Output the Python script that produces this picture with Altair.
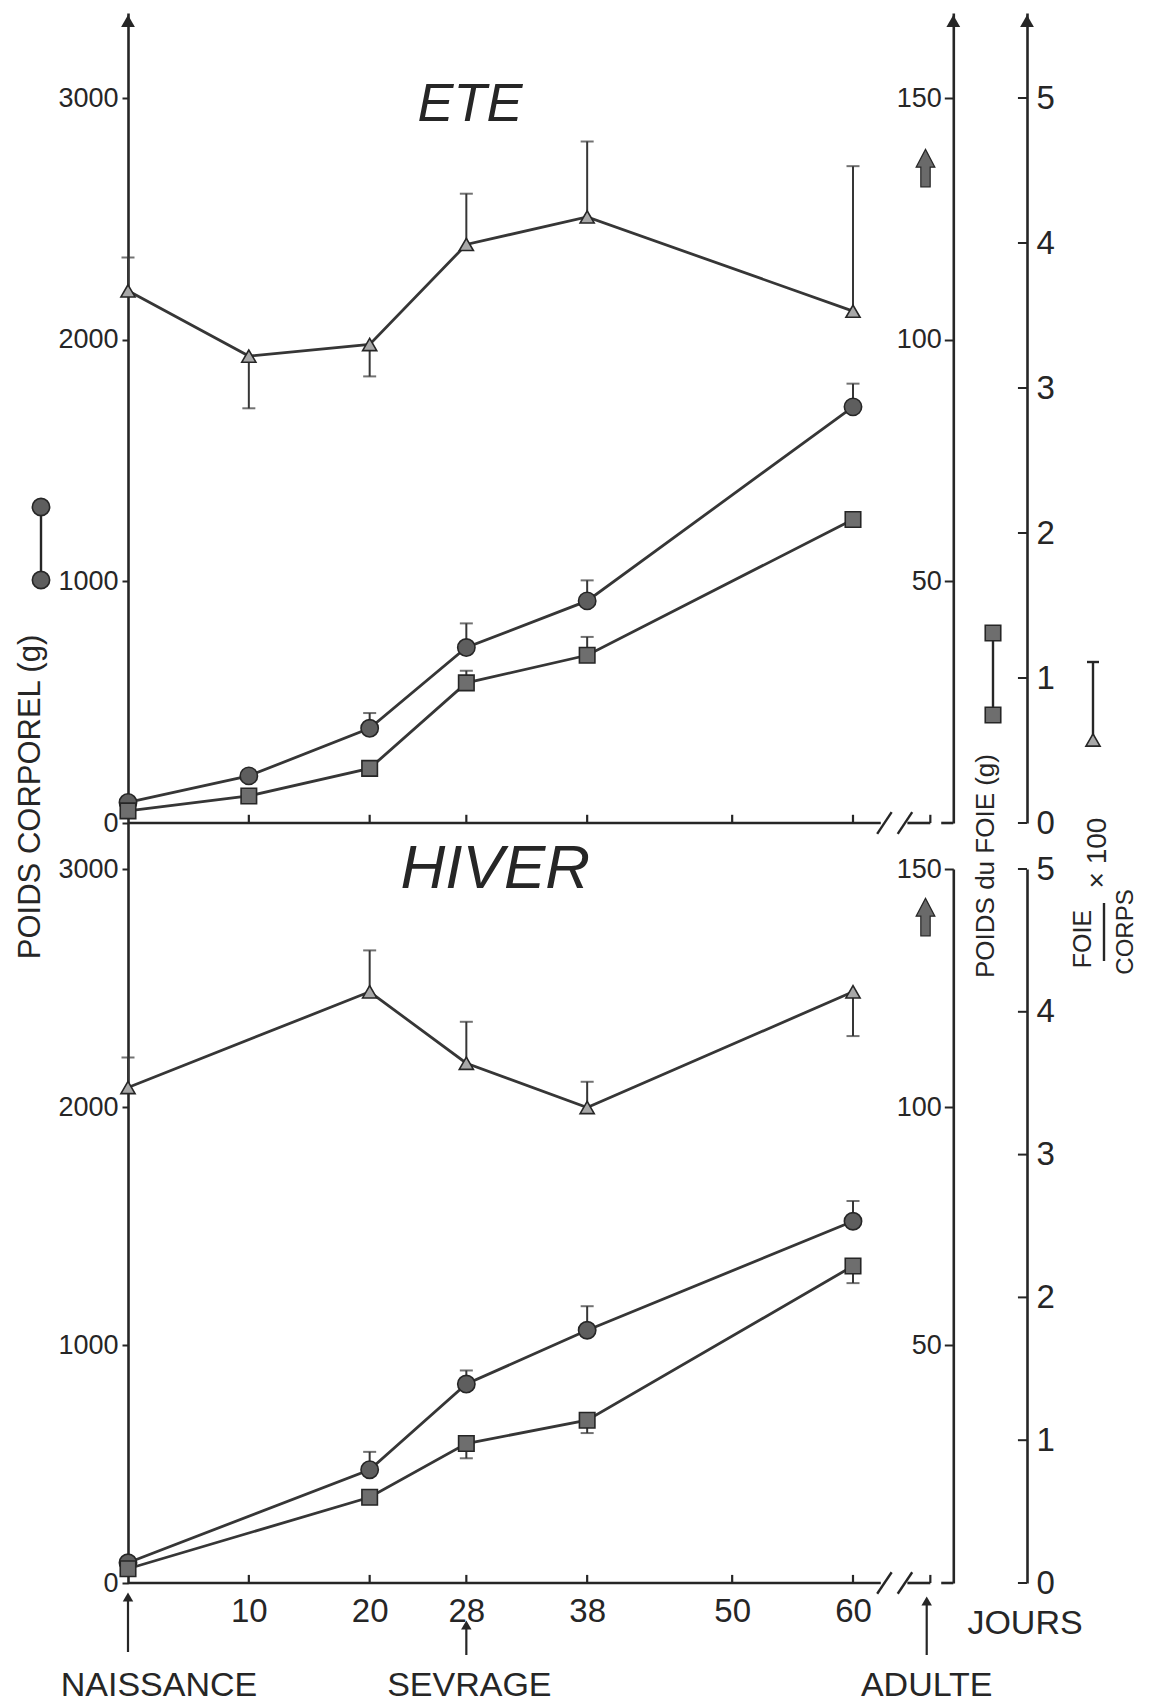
import altair as alt
import pandas as pd

# ---------------- data ----------------
days_ete = [0, 10, 20, 28, 38, 60]
body_ete = [85, 195, 392, 726, 919, 1722]
body_ete_err = [None, None, 455, 826, 1004, 1818]
liver_ete = [2.5, 5.6, 11.3, 29.0, 34.7, 62.8]
liver_ete_err = [None, None, None, 31.5, 38.5, None]
ratio_ete = [3.67, 3.22, 3.30, 3.99, 4.18, 3.53]
ratio_ete_err = [3.90, 2.86, 3.08, 4.34, 4.70, 4.53]

days_hiv = [0, 20, 28, 38, 60]
body_hiv = [85, 476, 836, 1062, 1520]
body_hiv_err = [None, 551, 893, 1163, 1605]
liver_hiv = [3.0, 18.0, 29.3, 34.2, 66.6]
liver_hiv_err = [None, None, 26.2, 31.5, 63.0]
ratio_hiv = [3.47, 4.14, 3.64, 3.33, 4.14]
ratio_hiv_err = [3.68, 4.43, 3.93, 3.51, 3.83]

x_tick_values = [10, 20, 28, 38, 50, 60]
body_tick_values = [0, 1000, 2000, 3000]
liver_tick_values = [50, 100, 150]
ratio_tick_values = [0, 1, 2, 3, 4, 5]
landmark_days = [0, 28, 66.1]
landmark_labels = ["NAISSANCE", "SEVRAGE", "ADULTE"]
season_labels = ["ETE", "HIVER"]

# ---------------- layout / style ----------------
FONT = "Liberation Sans"
INK = "#262626"
LINE = "#363636"
W = 899
XMAX = 74.4
MID_X = 68.3
H1 = 810
H2 = 760
B1 = 3000 * H1 / 725.0
B2 = 3000 * H2 / 714.0
TOP2 = H2 - 714
ONE = pd.DataFrame({"k": [0]})
BLOCK_ARROW = "M-0.25,1L0.25,1L0.25,-0.05L0.5,-0.05L0,-1L-0.5,-0.05L-0.25,-0.05Z"

xscale = alt.Scale(domain=[0, XMAX], nice=False, zero=False)


def axis_kw(**kw):
    base = dict(grid=False, title=None, format="d", labelFont=FONT, labelFontSize=27,
                labelColor=INK, domainColor=INK, domainWidth=2.6, tickColor=INK, tickWidth=2)
    base.update(kw)
    return alt.Axis(**base)


def ptext(text, x, y, size, angle=0, **kw):
    return alt.Chart(ONE).mark_text(text=text, font=FONT, fontSize=size, color=INK, angle=angle,
                                    align="center", baseline="middle", **kw).encode(
        x=alt.value(x), y=alt.value(y))


def pvrule(x, y1, y2, w=2.4):
    return alt.Chart(ONE).mark_rule(color=INK, strokeWidth=w).encode(
        x=alt.value(x), y=alt.value(y1), y2=alt.value(y2))


def phrule(x1, x2, y, w=2.4):
    return alt.Chart(ONE).mark_rule(color=INK, strokeWidth=w).encode(
        x=alt.value(x1), x2=alt.value(x2), y=alt.value(y))


def ppoint(shape, x, y, size, fill="#6a6a6a"):
    return alt.Chart(ONE).mark_point(shape=shape, filled=True, size=size, fill=fill, stroke=INK,
                                     strokeWidth=1.6, opacity=1).encode(x=alt.value(x), y=alt.value(y))


def build_panel(days, body, berr, liver, lerr, ratio, rerr, H, bscale, lscale, rscale, xaxis,
                season, season_pos, season_size, block_y, top_arrows):
    def X(field):
        return alt.X(field, type="quantitative", scale=xscale, axis=xaxis, title=None)

    def Y(field, scale, axis=None):
        return alt.Y(field, type="quantitative", scale=scale, axis=axis)

    left_ax = axis_kw(orient="left", values=body_tick_values, tickSize=6, labelPadding=4)
    mid_ax = axis_kw(orient="left", offset=-W * MID_X / XMAX, values=liver_tick_values,
                     tickSize=9, labelPadding=3)
    rat_ax = axis_kw(orient="right", values=ratio_tick_values, ticks=False, labelPadding=9,
                     labelFontSize=33)

    def series(vals, errs, scale, axis, shape, size, fill):
        df = pd.DataFrame({"d": days, "v": vals})
        de = pd.DataFrame({"d": days, "v": vals, "e": errs}).dropna()
        return [
            alt.Chart(df).mark_line(color=LINE, strokeWidth=2.8).encode(x=X("d"), y=Y("v", scale, axis)),
            alt.Chart(de).mark_rule(color=LINE, strokeWidth=2).encode(x=X("d"), y=Y("v", scale), y2="e"),
            alt.Chart(de).mark_tick(orient="horizontal", size=13, thickness=2, color=LINE).encode(
                x=X("d"), y=Y("e", scale)),
            alt.Chart(df).mark_point(shape=shape, filled=True, size=size, fill=fill, stroke=INK,
                                     strokeWidth=1.6, opacity=1).encode(x=X("d"), y=Y("v", scale)),
        ]

    layers = []
    # baseline with break
    seg = pd.DataFrame({"a": [0, 64.5, 67.3], "b": [62.3, 66.4, MID_X], "y": [0, 0, 0]})
    layers.append(alt.Chart(seg).mark_rule(color=INK, strokeWidth=2.6).encode(
        x=X("a"), x2="b", y=Y("y", bscale)))
    ticks = pd.DataFrame({"d": x_tick_values + [66.4], "y0": 0, "y1": 34})
    layers.append(alt.Chart(ticks).mark_rule(color=INK, strokeWidth=2.2).encode(
        x=X("d"), y=Y("y0", bscale), y2="y1"))
    slash = pd.DataFrame({"a": [62.0, 63.7], "b": [63.2, 64.9], "y0": -45, "y1": 45})
    layers.append(alt.Chart(slash).mark_rule(color=INK, strokeWidth=2.4).encode(
        x=X("a"), x2="b", y=Y("y0", bscale), y2="y1"))
    # inward ticks on the ratio axis
    rt = pd.DataFrame({"a": XMAX - 0.75, "b": XMAX, "y": ratio_tick_values})
    layers.append(alt.Chart(rt).mark_rule(color=INK, strokeWidth=2).encode(
        x=X("a"), x2="b", y=Y("y", rscale)))

    layers += series(body, berr, bscale, left_ax, "circle", 300, "#5e5e5e")
    layers += series(liver, lerr, lscale, mid_ax, "square", 240, "#6e6e6e")
    layers += series(ratio, rerr, rscale, rat_ax, "triangle-up", 200, "#a8a8a8")

    if top_arrows:
        ta = pd.DataFrame({"d": [0, MID_X, XMAX], "y": B1 * (1 - 8.0 / H1)})
        layers.append(alt.Chart(ta).mark_point(shape="triangle-up", filled=True, size=190,
                                               color=INK, opacity=1).encode(x=X("d"), y=Y("y", bscale)))

    st = pd.DataFrame({"d": [season_pos[0]], "v": [season_pos[1]]})
    layers.append(alt.Chart(st).mark_text(text=season, font=FONT, fontStyle="italic",
                                          fontSize=season_size, color=INK).encode(
        x=X("d"), y=Y("v", bscale)))
    ba = pd.DataFrame({"d": [66.0], "v": [block_y]})
    layers.append(alt.Chart(ba).mark_point(shape=BLOCK_ARROW, filled=True, size=1400, fill="#6a6a6a",
                                           stroke=INK, strokeWidth=1.2, opacity=1).encode(
        x=X("d"), y=Y("v", bscale)))
    return layers


bs1 = alt.Scale(domain=[0, B1], nice=False, zero=False)
ls1 = alt.Scale(domain=[0, B1 / 20.0], nice=False, zero=False)
rs1 = alt.Scale(domain=[0, B1 / 600.0], nice=False, zero=False)
bs2 = alt.Scale(domain=[0, B2], nice=False, zero=False)
ls2 = alt.Scale(domain=[0, 150], range=[H2, TOP2], nice=False, zero=False)
rs2 = alt.Scale(domain=[0, 5], range=[H2, TOP2], nice=False, zero=False)

ete_layers = build_panel(days_ete, body_ete, body_ete_err, liver_ete, liver_ete_err, ratio_ete,
                         ratio_ete_err, H1, bs1, ls1, rs1, None, season_labels[0], (28.3, 2971), 54,
                         2710, True)
ete_layers += [
    ptext("POIDS CORPOREL (g)", -97, 784, 31, angle=270),
    pvrule(-87, 494, 567),
    ppoint("circle", -87, 494, 300, "#5e5e5e"),
    ppoint("circle", -87, 567, 300, "#5e5e5e"),
    ptext("POIDS du FOIE (g)", 858, 853, 26, angle=270),
    pvrule(865, 620, 702),
    ppoint("square", 865, 620, 240, "#6e6e6e"),
    ppoint("square", 865, 702, 240, "#6e6e6e"),
    pvrule(965, 649, 727),
    phrule(959, 971, 649),
    ppoint("triangle-up", 965, 727, 200, "#a8a8a8"),
    ptext("× 100", 970, 840, 28, angle=270),
    ptext("FOIE", 955, 926, 25, angle=270),
    pvrule(976, 890, 948),
    ptext("CORPS", 998, 919, 24, angle=270),
]
ete = alt.layer(*ete_layers).resolve_scale(y="independent").properties(width=W, height=H1)

hiv_xaxis = alt.Axis(values=x_tick_values, domain=False, ticks=False, grid=False, labelFont=FONT,
                     labelFontSize=33, labelColor=INK, labelPadding=12, format="d", title=None)
hiv_layers = build_panel(days_hiv, body_hiv, body_hiv_err, liver_hiv, liver_hiv_err, ratio_hiv,
                         ratio_hiv_err, H2, bs2, ls2, rs2, hiv_xaxis, season_labels[1], (30.4, 3000), 62,
                         2798, False)

arr = pd.DataFrame({"d": landmark_days, "tip": [774, 802, 778], "base": [829, 832, 832]})
hiv_layers.append(alt.Chart(arr).mark_rule(color=INK, strokeWidth=2.2).encode(
    x=alt.X("d", type="quantitative", scale=xscale, axis=hiv_xaxis, title=None),
    y=alt.Y("tip", type="quantitative", scale=None), y2="base"))
hiv_layers.append(alt.Chart(arr).mark_point(shape="triangle-up", filled=True, size=110, color=INK,
                                            opacity=1).encode(
    x=alt.X("d", type="quantitative", scale=xscale, axis=hiv_xaxis, title=None),
    y=alt.Y("tip", type="quantitative", scale=None)))
for i, (lab, dx) in enumerate(zip(landmark_labels, [31, 3, 0])):
    one = pd.DataFrame({"d": [landmark_days[i]]})
    hiv_layers.append(alt.Chart(one).mark_text(text=lab, font=FONT, fontSize=34, color=INK, dx=dx,
                                               align="center", baseline="middle").encode(
        x=alt.X("d", type="quantitative", scale=xscale, axis=hiv_xaxis, title=None),
        y=alt.value(863)))
hiv_layers.append(ptext("JOURS", 897, 801, 34))
hiv = alt.layer(*hiv_layers).resolve_scale(y="independent").properties(width=W, height=H2)

chart = alt.vconcat(ete, hiv, spacing=0, bounds="flush").properties(
    padding={"left": 7, "top": 5, "right": 5, "bottom": 5}
).configure(background="white").configure_view(stroke=None)

chart.save("out.html", embed_options={"renderer": "svg", "actions": False})
